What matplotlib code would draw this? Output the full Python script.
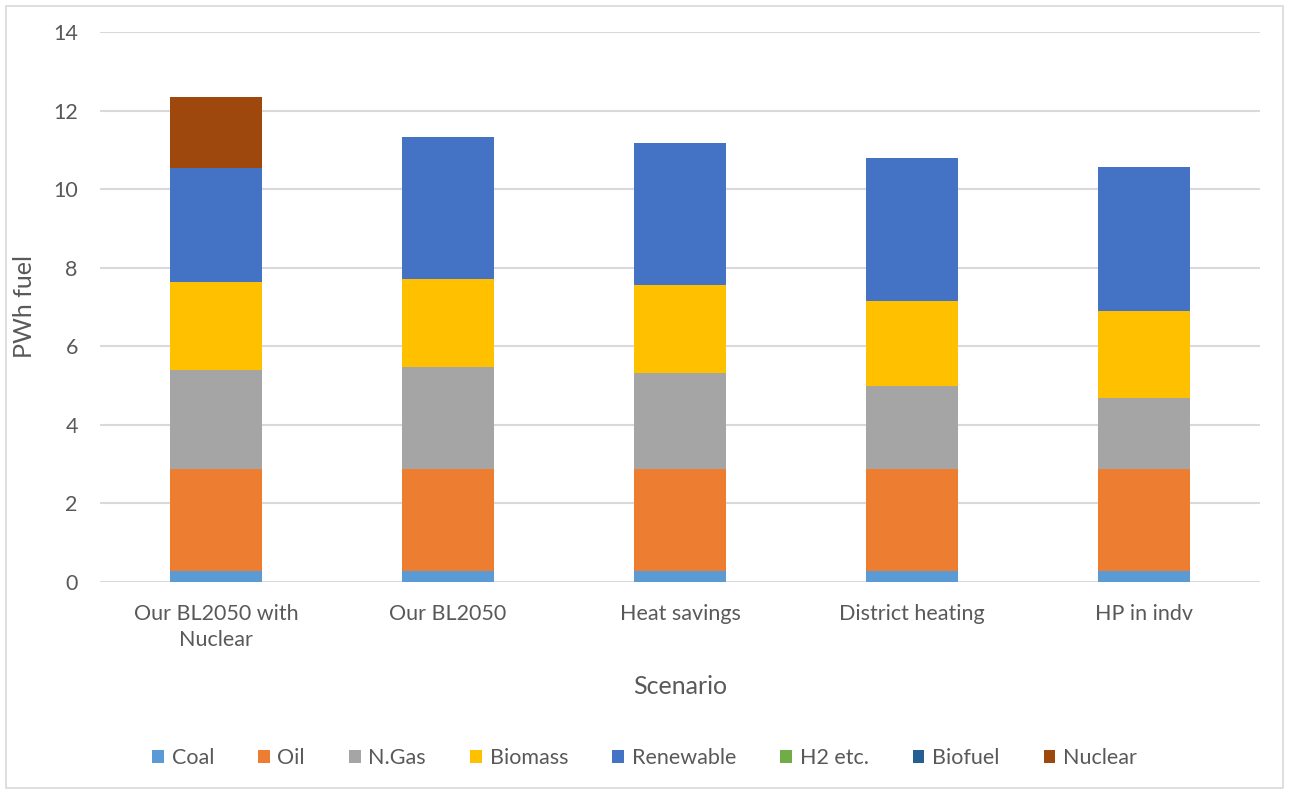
import matplotlib
matplotlib.use("Agg")
import matplotlib.pyplot as plt
from matplotlib.patches import Rectangle
import numpy as np

scenarios = ["Our BL2050 with\nNuclear", "Our BL2050", "Heat savings",
             "District heating", "HP in indv"]
fuels = ["Coal", "Oil", "N.Gas", "Biomass", "Renewable", "H2 etc.", "Biofuel", "Nuclear"]
coal = [0.26, 0.26, 0.26, 0.26, 0.26]
oil = [2.60, 2.60, 2.60, 2.60, 2.60]
ngas = [2.54, 2.60, 2.47, 2.13, 1.83]
biomass = [2.24, 2.25, 2.23, 2.16, 2.22]
renewable = [2.91, 3.61, 3.63, 3.64, 3.65]
h2 = [0.0, 0.0, 0.0, 0.0, 0.0]
biofuel = [0.0, 0.0, 0.0, 0.0, 0.0]
nuclear = [1.80, 0.0, 0.0, 0.0, 0.0]
series = [coal, oil, ngas, biomass, renewable, h2, biofuel, nuclear]
colors = ["#5B9BD5", "#ED7D31", "#A5A5A5", "#FFC000", "#4472C4",
          "#70AD47", "#255E91", "#9E480E"]
y_ticks = [0, 2, 4, 6, 8, 10, 12, 14]

plt.rcParams["font.family"] = ["Lato", "DejaVu Sans"]
text_color = "#595959"

fig = plt.figure(figsize=(12.89, 7.94), dpi=100)
W, H = 1289, 794
ax = fig.add_axes([100 / W, (H - 581.7) / H, 1160 / W, (581.7 - 32.3) / H])

x = np.arange(len(scenarios))
bottom = np.zeros(len(scenarios))
for name, vals, col in zip(fuels, series, colors):
    v = np.array(vals)
    ax.bar(x, v, width=0.4, bottom=bottom, color=col, label=name,
           zorder=3, linewidth=0)
    bottom += v

ax.set_xlim(-0.5, len(scenarios) - 0.5)
ax.set_ylim(0, 14)
ax.set_yticks(y_ticks)
ax.yaxis.grid(True, color="#D9D9D9", linewidth=1.5, zorder=0)
ax.set_axisbelow(True)
for s in ax.spines.values():
    s.set_visible(False)
ax.tick_params(axis="both", length=0, labelsize=15.5, colors=text_color)
ax.tick_params(axis="y", pad=16)
ax.tick_params(axis="x", pad=16)
ax.set_xticks(x)
ax.set_xticklabels(scenarios, linespacing=1.4)

ax.set_xlabel("Scenario", fontsize=18, color=text_color, labelpad=18)
ax.set_ylabel("PWh fuel", fontsize=18, color=text_color, labelpad=12)

leg = fig.legend(loc="center", bbox_to_anchor=(0.5, (H - 758) / H), ncol=8,
                 frameon=False, fontsize=15.5, handlelength=0.55, handleheight=0.55,
                 handletextpad=0.35, columnspacing=2.05, labelcolor=text_color)

fig.patches.append(Rectangle((6 / W, 6 / H), (W - 12) / W, (H - 12) / H,
                             transform=fig.transFigure, fill=False,
                             edgecolor="#D9D9D9", linewidth=1.2))

fig.savefig("out.png", dpi=100, facecolor="white")
